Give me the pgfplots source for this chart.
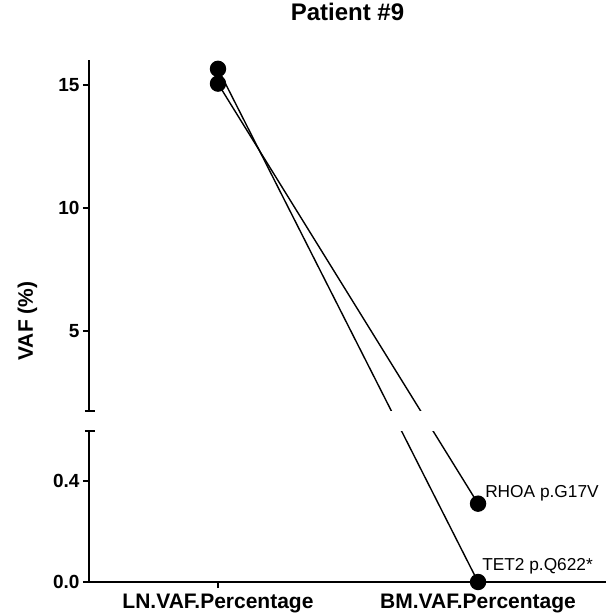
\documentclass[border=0pt]{standalone}
\usepackage{fontspec}
\setmainfont{Liberation Sans}
\usepackage{pgfplots}
\pgfplotsset{compat=1.18}
\begin{document}
\begin{tikzpicture}
\useasboundingbox (0,0) rectangle (606pt,613pt);
\begin{axis}[
  at={(89pt,31pt)}, anchor=south west,
  scale only axis, width=517pt, height=522pt,
  axis lines=left, axis line style={-, line width=2pt},
  xmin=-0.496, xmax=1.492,
  y coord trafo/.code={\pgfmathparse{(#1<=1) ? (#1*10.264) : (#1+5.203)}},
  ymin=0, ymax=16,
  ytick={0,0.4,5,10,15}, yticklabels={0.0,0.4,5,10,15},
  xtick={0,1}, xticklabels={LN.VAF.Percentage,BM.VAF.Percentage},
  tick align=outside, major tick length=6pt,
  tick style={line width=2pt, black},
  yticklabel style={font=\fontsize{19}{21}\selectfont\bfseries},
  xticklabel style={font=\fontsize{21}{24}\selectfont\bfseries, anchor=base, yshift=-20pt},
  /pgf/number format/assume math mode=true,
  title={Patient \#9},
  title style={font=\fontsize{24}{27}\selectfont\bfseries, at={(rel axis cs:0.5,1)}, anchor=base, yshift=33pt},
  ylabel={VAF (\%)},
  every axis y label/.style={at={([xshift=-56pt]rel axis cs:0,0.5)}, rotate=90, anchor=base, font=\fontsize{21}{24}\selectfont\bfseries},
  clip=false,
]
\addplot[black, line width=1.4pt, mark=*, mark size=7.5pt] coordinates {(0,15.64) (1,0)};
\addplot[black, line width=1.4pt, mark=*, mark size=7.5pt] coordinates {(0,15.04) (1,0.31)};
\fill[white] (rel axis cs:-0.02,0.2895) rectangle (rel axis cs:1.01,0.3278);
\draw[line width=2pt] ([xshift=-4pt]rel axis cs:0,0.2895) -- ([xshift=6pt]rel axis cs:0,0.2895);
\draw[line width=2pt] ([xshift=-4pt]rel axis cs:0,0.3278) -- ([xshift=6pt]rel axis cs:0,0.3278);
\node[anchor=base west, inner sep=0pt, xshift=7pt, yshift=6pt, font=\fontsize{17.3}{20}\selectfont] at (axis cs:1,0.31) {RHOA p.G17V};
\node[anchor=base west, inner sep=0pt, xshift=4pt, yshift=12pt, font=\fontsize{17.3}{20}\selectfont] at (axis cs:1,0) {TET2 p.Q622*};
\end{axis}
\end{tikzpicture}
\end{document}
